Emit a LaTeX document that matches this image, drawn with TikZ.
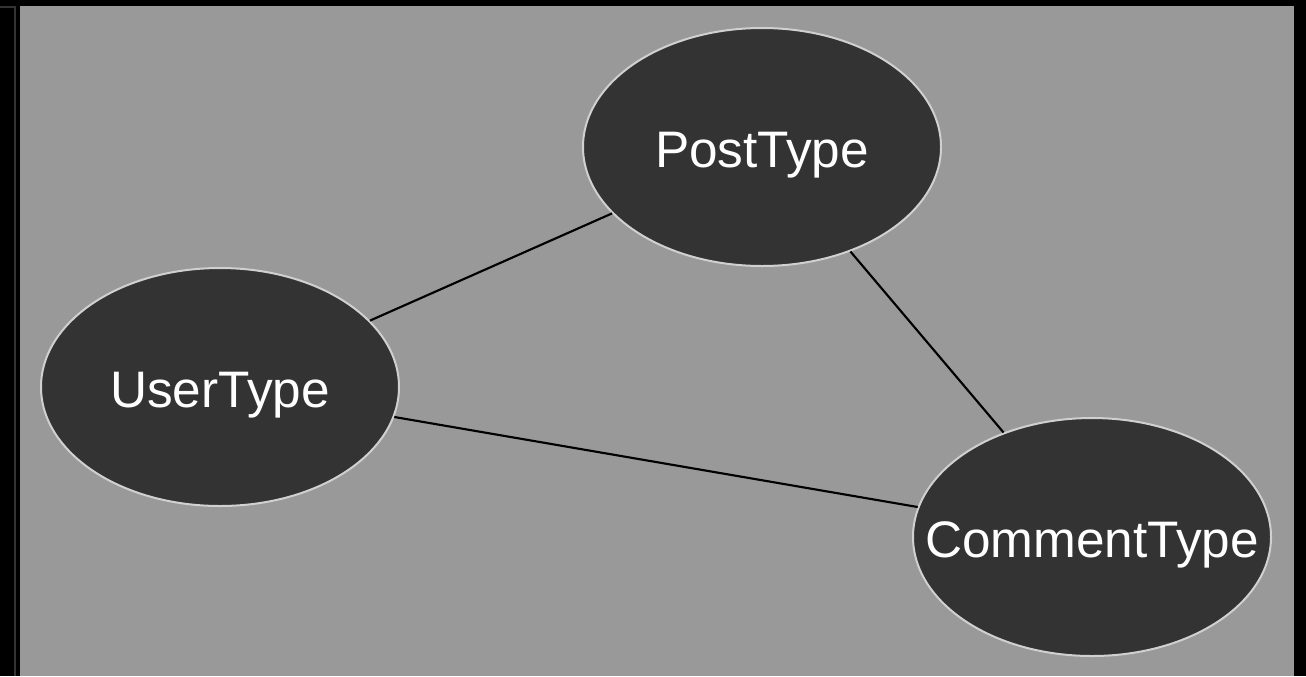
\documentclass[tikz,border=0pt]{standalone}
\usepackage{fontspec}
\setmainfont{Liberation Sans}
\usetikzlibrary{shapes.geometric}

\definecolor{panelgray}{RGB}{153,153,153}
\definecolor{nodefill}{RGB}{51,51,51}
\definecolor{nodeline}{RGB}{208,208,208}

\tikzset{every picture/.style={line width=0.75pt}}
\tikzset{
	typenode/.style={ellipse, draw=nodeline, line width=1.5pt, fill=nodefill, text=white,
		minimum width=268.5pt, minimum height=178.5pt, inner sep=0pt,
		font=\fontsize{38.5}{42}\selectfont},
	link/.style={draw=black, line width=1.6pt}
}
% keep the label from widening the ellipse
\newcommand{\typelabel}[1]{\raisebox{-15pt}[0pt][0pt]{\makebox[0pt]{#1}}}

\begin{document}
\begin{tikzpicture}[x=0.75pt,y=0.75pt,yscale=-1,xscale=1]
	%frame: full picture is 1306 x 676
	\useasboundingbox (0,0) rectangle (1306,676);
	\fill [black] (0,0) rectangle (1306,676);
	\fill [panelgray] (20,6) rectangle (1294,676);
	\draw [nodefill, line width=1.5pt] (0,7) -- (15,7) -- (15,676);

	\node [typenode] (post) at (762,147) {\typelabel{PostType}};
	\node [typenode] (user) at (220,387) {\typelabel{UserType}};
	\node [typenode] (comment) at (1092,537) {\typelabel{CommentType}};

	\draw [link] (user) -- (post);
	\draw [link] (post) -- (comment);
	\draw [link] (user) -- (comment);
\end{tikzpicture}
\end{document}
